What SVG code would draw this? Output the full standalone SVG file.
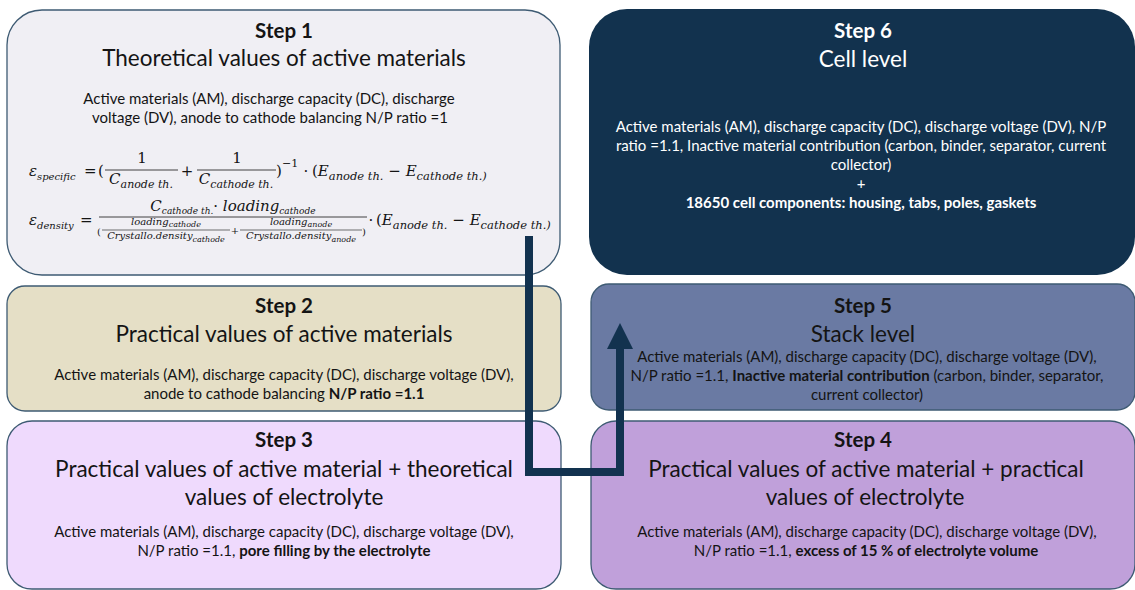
<svg xmlns="http://www.w3.org/2000/svg" width="1135" height="590" viewBox="0 0 1135 590">
<style>
.t{font-family:Lato,"Liberation Sans",sans-serif;text-anchor:middle;fill:#141414}
.h{font-weight:700;font-size:20.5px}
.ti{font-size:22.5px}
.b{font-size:15px}
.bd{font-weight:700}
.w{fill:#ffffff}
.bx{stroke:#3e5b73;stroke-width:1.3}
.m{font-family:"DejaVu Serif","Liberation Serif",serif;font-style:italic;font-size:15px;fill:#141414}
.s{font-size:11px}
.st{font-size:11.5px}
.sb{font-size:10px}
.s2{font-size:9px}
.sm{font-size:10px}
.s3{font-size:8px}
.u{font-style:normal}
.mid{text-anchor:middle}
.fb{stroke:#141414;stroke-width:0.8}
.fb2{stroke:#141414;stroke-width:0.6}
.conn{fill:none;stroke:#12324f;stroke-width:8;stroke-linejoin:miter}
</style>
<defs>
<marker id="ah" markerUnits="userSpaceOnUse" markerWidth="26" markerHeight="26" viewBox="0 0 26 26" refX="0" refY="13" orient="auto">
<path d="M0,0 L26,13 L0,26 z" fill="#12324f"/>
</marker>
</defs>

<g id="step1">
<rect class="bx" x="7" y="10" width="553" height="265" rx="35" fill="#f0eff4"/>
<text class="t h" x="284" y="38">Step 1</text>
<text class="t ti" x="284" y="66">Theoretical values of active materials</text>
<text class="t b" x="269" y="104">Active materials (AM), discharge capacity (DC), discharge</text>
<text class="t b" x="270" y="123">voltage (DV), anode to cathode balancing N/P ratio =1</text>
<g id="formula1">
<text class="m" x="29" y="176">ε</text>
<text class="m sb" x="37" y="180">specific</text>
<text class="m u" x="84" y="176">=</text>
<text class="m u" x="98" y="176">(</text>
<text class="m u mid" x="142" y="163">1</text>
<line class="fb" x1="105" y1="170" x2="178" y2="170"/>
<text class="m mid" x="141" y="184">C<tspan class="s" dy="4">anode th.</tspan></text>
<text class="m u mid" x="187" y="176">+</text>
<text class="m u mid" x="237" y="163">1</text>
<line class="fb" x1="197" y1="170" x2="276" y2="170"/>
<text class="m mid" x="236" y="184">C<tspan class="s" dy="4">cathode th.</tspan></text>
<text class="m u" x="276" y="176">)</text>
<text class="m u s" x="282" y="167">−1</text>
<text class="m u mid" x="306" y="176">·</text>
<text class="m" x="312" y="176"><tspan class="u">(</tspan>E<tspan class="st" dy="4">anode th.</tspan><tspan class="u" dy="-4"> − </tspan>E<tspan class="st" dy="4">cathode th.)</tspan></text>
</g>
<g id="formula2">
<text class="m" x="29" y="225">ε</text>
<text class="m sb" x="37" y="229">density</text>
<text class="m u" x="80" y="225">=</text>
<text class="m mid" x="233" y="211" font-size="12.5">C<tspan class="s2" dy="3">cathode th.</tspan><tspan class="u" dy="-3">· </tspan>loading<tspan class="s2" dy="3">cathode</tspan></text>
<line class="fb" x1="99" y1="217" x2="367" y2="217"/>
<text class="m u sm" x="97" y="235">(</text>
<text class="m mid sm" x="166" y="225">loading<tspan class="s3" dy="2">cathode</tspan></text>
<line class="fb2" x1="102" y1="230" x2="230" y2="230"/>
<text class="m mid sm" x="166" y="239">Crystallo.density<tspan class="s3" dy="3">cathode</tspan></text>
<text class="m u mid sm" x="235" y="234">+</text>
<text class="m mid sm" x="301" y="225">loading<tspan class="s3" dy="2">anode</tspan></text>
<line class="fb2" x1="240" y1="230" x2="362" y2="230"/>
<text class="m mid sm" x="301" y="239">Crystallo.density<tspan class="s3" dy="3">anode</tspan></text>
<text class="m u sm" x="362" y="235">)</text>
<text class="m u mid" x="371" y="225">·</text>
<text class="m" x="376" y="225"><tspan class="u">(</tspan>E<tspan class="st" dy="4">anode th.</tspan><tspan class="u" dy="-4"> − </tspan>E<tspan class="st" dy="4">cathode th.)</tspan></text>
</g>
</g>

<g id="step6">
<rect x="589" y="9" width="546" height="266" rx="38" fill="#12324e"/>
<text class="t h w" x="863" y="38">Step 6</text>
<text class="t ti w" x="863" y="67">Cell level</text>
<text class="t b w" x="861" y="132">Active materials (AM), discharge capacity (DC), discharge voltage (DV), N/P</text>
<text class="t b w" x="861" y="151">ratio =1.1, Inactive material contribution (carbon, binder, separator, current</text>
<text class="t b w" x="861" y="170">collector)</text>
<text class="t b w" x="861" y="189">+</text>
<text class="t b w bd" x="861" y="208">18650 cell components: housing, tabs, poles, gaskets</text>
</g>

<g id="step2">
<rect class="bx" x="7" y="286" width="554" height="125" rx="18" fill="#e5dfc6"/>
<text class="t h" x="284" y="313">Step 2</text>
<text class="t ti" x="284" y="342">Practical values of active materials</text>
<text class="t b" x="284" y="380">Active materials (AM), discharge capacity (DC), discharge voltage (DV),</text>
<text class="t b" x="284" y="399">anode to cathode balancing <tspan class="bd">N/P ratio =1.1</tspan></text>
</g>

<g id="step5">
<rect class="bx" x="591" y="284" width="544" height="126" rx="18" fill="#6a7aa3"/>
<text class="t h" x="863" y="313">Step 5</text>
<text class="t ti" x="863" y="342">Stack level</text>
<text class="t b" x="867" y="362">Active materials (AM), discharge capacity (DC), discharge voltage (DV),</text>
<text class="t b" x="867" y="381">N/P ratio =1.1, <tspan class="bd">Inactive material contribution</tspan> (carbon, binder, separator,</text>
<text class="t b" x="867" y="400">current collector)</text>
</g>

<g id="step3">
<rect class="bx" x="7" y="421" width="554" height="168" rx="25" fill="#efdafd"/>
<text class="t h" x="284" y="447">Step 3</text>
<text class="t ti" x="284" y="477">Practical values of active material + theoretical</text>
<text class="t ti" x="284" y="505">values of electrolyte</text>
<text class="t b" x="284" y="537">Active materials (AM), discharge capacity (DC), discharge voltage (DV),</text>
<text class="t b" x="284" y="556">N/P ratio =1.1, <tspan class="bd">pore filling by the electrolyte</tspan></text>
</g>

<g id="step4">
<rect class="bx" x="591" y="421" width="544" height="168" rx="25" fill="#c0a0da"/>
<text class="t h" x="863" y="447">Step 4</text>
<text class="t ti" x="866" y="477">Practical values of active material + practical</text>
<text class="t ti" x="865" y="505">values of electrolyte</text>
<text class="t b" x="867" y="537">Active materials (AM), discharge capacity (DC), discharge voltage (DV),</text>
<text class="t b" x="866" y="556">N/P ratio =1.1, <tspan class="bd">excess of 15 % of electrolyte volume</tspan></text>
</g>

<g id="connectors">
<path class="conn" d="M529,236 V472 H620 V349" marker-end="url(#ah)"/>
</g>
</svg>
